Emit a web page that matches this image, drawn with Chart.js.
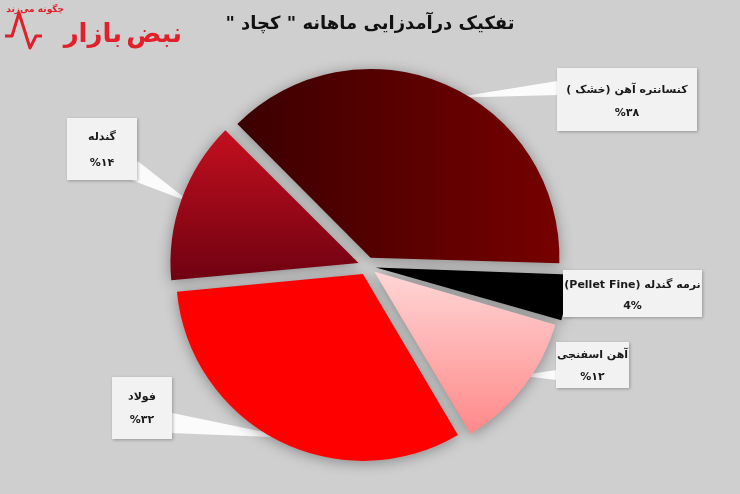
<!DOCTYPE html>
<html><head><meta charset="utf-8">
<script src="https://cdn.jsdelivr.net/npm/chart.js@4.4.0/dist/chart.umd.min.js"></script>
<style>html,body{margin:0;padding:0;background:#cfcfcf;} #wrap{width:740px;height:494px;position:relative;}</style>
</head><body><div id="wrap"><canvas id="c"></canvas></div>
<script>
const categories = ['کنسانتره آهن (خشک )', 'نرمه گندله (Pellet Fine)', 'آهن اسفنجی', 'فولاد', 'گندله'];
const values = [38, 4, 12, 32, 14];
const percentLabels = ['%۳۸', '4%', '%۱۲', '%۳۲', '%۱۴'];
const titleText = 'تفکیک درآمدزایی ماهانه " کچاد "';

const FONT = '"DejaVu Sans", "Noto Sans", sans-serif';
const R = 186;
const OFFSET = 36; // Chart.js v4 draws offset/4 → 9px

// callout layout (box geometry, pointer anchor) – presentation only
const callouts = [
  {box:[557,68,140,63], lines:[22,45], anchor:[558,88], hw:7, t:0.53, rf:0.97},
  {box:[563,270,139,47], lines:[15,36], anchor:null},
  {box:[556,342,73,46], lines:[13,35], anchor:[557,375], hw:5, t:0.45, rf:0.96},
  {box:[112,377,60,62], lines:[20,43], anchor:[171,423], hw:10, t:0.47, rf:0.96},
  {box:[67,118,70,62], lines:[19,45], anchor:[133,170], hw:10, t:0.5, rf:0.96}
];

function center(chart){ const a = chart.chartArea; return [(a.left+a.right)/2, (a.top+a.bottom)/2]; }

const fills = [
  (c)=>{ const ch=c.chart; if(!ch.chartArea) return '#5a0000'; const [cx]=center(ch);
    const g=ch.ctx.createLinearGradient(cx-140,0,cx+190,0); g.addColorStop(0,'#3a0000'); g.addColorStop(1,'#770000'); return g; },
  ()=> '#000000',
  (c)=>{ const ch=c.chart; if(!ch.chartArea) return '#ffaaaa'; const [,cy]=center(ch);
    const g=ch.ctx.createLinearGradient(0,cy,0,cy+170); g.addColorStop(0,'#ffd6d6'); g.addColorStop(1,'#ff8585'); return g; },
  ()=> '#ff0000',
  (c)=>{ const ch=c.chart; if(!ch.chartArea) return '#a00010'; const [,cy]=center(ch);
    const g=ch.ctx.createLinearGradient(0,cy-140,0,cy+30); g.addColorStop(0,'#c8101f'); g.addColorStop(1,'#680010'); return g; }
];

function tipOf(arc, co){
  const off = (arc.options.offset || 0)/4;
  const mid = (arc.startAngle + arc.endAngle)/2;
  const a = arc.startAngle + co.t*(arc.endAngle-arc.startAngle);
  return [arc.x + off*Math.cos(mid) + co.rf*arc.outerRadius*Math.cos(a),
          arc.y + off*Math.sin(mid) + co.rf*arc.outerRadius*Math.sin(a)];
}

const deco = {
  id:'deco',
  beforeDraw(chart){
    const ctx = chart.ctx;
    ctx.save();
    // logo
    ctx.strokeStyle='#e0202a'; ctx.lineWidth=3; ctx.lineJoin='round';
    ctx.beginPath(); ctx.moveTo(5,36); ctx.lineTo(12,36); ctx.lineTo(19,13); ctx.lineTo(25,32); ctx.lineTo(30,48); ctx.lineTo(36,36); ctx.lineTo(42,36); ctx.stroke();
    ctx.direction='rtl'; ctx.textAlign='right'; ctx.textBaseline='alphabetic';
    ctx.font='bold 26px '+FONT;
    ctx.fillStyle='#e0202a'; ctx.fillText('نبض', 182, 42);
    ctx.fillStyle='#e0202a'; ctx.fillText('بازار', 122, 42);
    ctx.font='bold 9px '+FONT; ctx.fillStyle='#e0202a'; ctx.fillText('چگونه می‌زند', 64, 12);
    // title
    ctx.textAlign='center'; ctx.fillStyle='#111';
    ctx.font='bold 18px '+FONT;
    ctx.fillText(titleText, 370, 29);
    ctx.restore();
  },
  beforeDatasetsDraw(chart){
    const ctx = chart.ctx;
    const arcs = chart.getDatasetMeta(0).data;
    ctx.save();
    ctx.fillStyle='#fbfbfb';
    callouts.forEach((co,i)=>{
      if(!co.anchor) return;
      const [tx,ty] = tipOf(arcs[i], co);
      const [ax,ay] = co.anchor;
      const dx=tx-ax, dy=ty-ay, L=Math.hypot(dx,dy); const px=-dy/L, py=dx/L;
      ctx.beginPath(); ctx.moveTo(ax+px*co.hw, ay+py*co.hw); ctx.lineTo(tx,ty); ctx.lineTo(ax-px*co.hw, ay-py*co.hw); ctx.closePath(); ctx.fill();
    });
    ctx.restore();
    ctx.save();
    ctx.shadowColor='rgba(0,0,0,0.35)'; ctx.shadowBlur=14; ctx.shadowOffsetX=0; ctx.shadowOffsetY=2;
  },
  afterDatasetsDraw(chart){
    const ctx = chart.ctx;
    ctx.restore();
    ctx.save();
    callouts.forEach((co,i)=>{
      const [x,y,w,h] = co.box;
      ctx.save();
      ctx.shadowColor='rgba(0,0,0,0.28)'; ctx.shadowBlur=3; ctx.shadowOffsetX=1; ctx.shadowOffsetY=1;
      ctx.fillStyle='#f2f2f2'; ctx.fillRect(x,y,w,h);
      ctx.restore();
      ctx.fillStyle='#1a1a1a'; ctx.textAlign='center'; ctx.textBaseline='middle';
      ctx.font='bold 11px '+FONT;
      ctx.direction='rtl';
      ctx.fillText(categories[i], x+w/2, y+co.lines[0]);
      ctx.direction='ltr';
      ctx.fillText(percentLabels[i], x+w/2, y+co.lines[1]);
    });
    ctx.restore();
  }
};

new Chart(document.getElementById('c'), {
  type:'pie',
  data:{ labels:categories, datasets:[{ data:values, backgroundColor:(c)=>fills[c.dataIndex](c), borderWidth:0, offset:OFFSET, hoverOffset:0 }] },
  options:{
    responsive:true, maintainAspectRatio:false, animation:false,
    rotation:-45, radius:R,
    layout:{ padding:{top:40, bottom:2, left:0, right:6} },
    plugins:{ legend:{display:false}, tooltip:{enabled:false}, title:{display:false} },
    events:[]
  },
  plugins:[deco]
});
</script></body></html>
